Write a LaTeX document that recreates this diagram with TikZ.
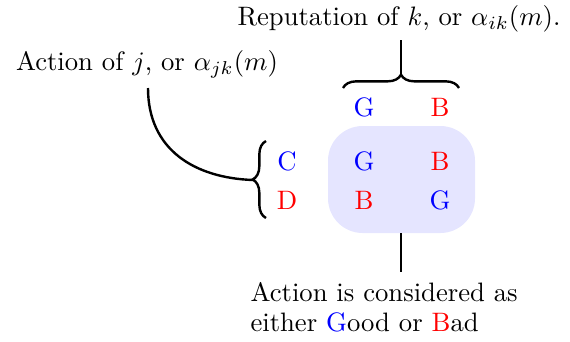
\documentclass[tikz,border=0pt]{standalone}
\usetikzlibrary{decorations.pathreplacing}
\begin{document}
\begin{tikzpicture}[x=0.375pt,y=-0.375pt,
  ln/.style={line width=0.9pt},
  brc/.style={ln,decorate,decoration={brace,amplitude=5pt}},
  lbl/.style={inner sep=0pt}]
\useasboundingbox (0,0) rectangle (570,341);
\fill[blue!10,rounded corners=13pt] (328,126) rectangle (475,233);
\node[lbl,anchor=base] (rep) at (399,25) {Reputation of $k$, or $\alpha_{ik}(m)$.};
\node[lbl,anchor=base] (act) at (147,70) {Action of $j$, or $\alpha_{jk}(m)$};
\node[lbl,text=blue] (gt) at (364,107) {G};
\node[lbl,text=red] (bt) at (440,107) {B};
\node[lbl,text=blue] (c) at (287,161) {C};
\node[lbl,text=red] (d) at (287,200) {D};
\node[lbl,text=blue] (g1) at (364,161) {G};
\node[lbl,text=red] (b1) at (440,161) {B};
\node[lbl,text=red] (b2) at (364,200) {B};
\node[lbl,text=blue] (g2) at (440,200) {G};
\node[lbl,anchor=base west] (l1) at (250,301) {Action is considered as};
\node[lbl,anchor=base west] (l2) at (250,331) {either \textcolor{blue}{G}ood or \textcolor{red}{B}ad};
\coordinate (tb1) at (343,88);
\coordinate (tb2) at (459,88);
\coordinate (ttip) at (401,75);
\coordinate (rtop) at (401,40);
\coordinate (lb1) at (266,218);
\coordinate (lb2) at (266,141);
\coordinate (ltip) at (253,180);
\coordinate (bx) at (401,233);
\coordinate (bbot) at (401,272);
\coordinate (cs) at (148,88);
\draw[brc] (tb1) -- (tb2);
\draw[brc] (lb1) -- (lb2);
\draw[ln] (rtop) -- (ttip);
\draw[ln] (bx) -- (bbot);
\draw[ln] (cs) .. controls (148,150) and (195,178) .. (ltip);
\end{tikzpicture}
\end{document}
